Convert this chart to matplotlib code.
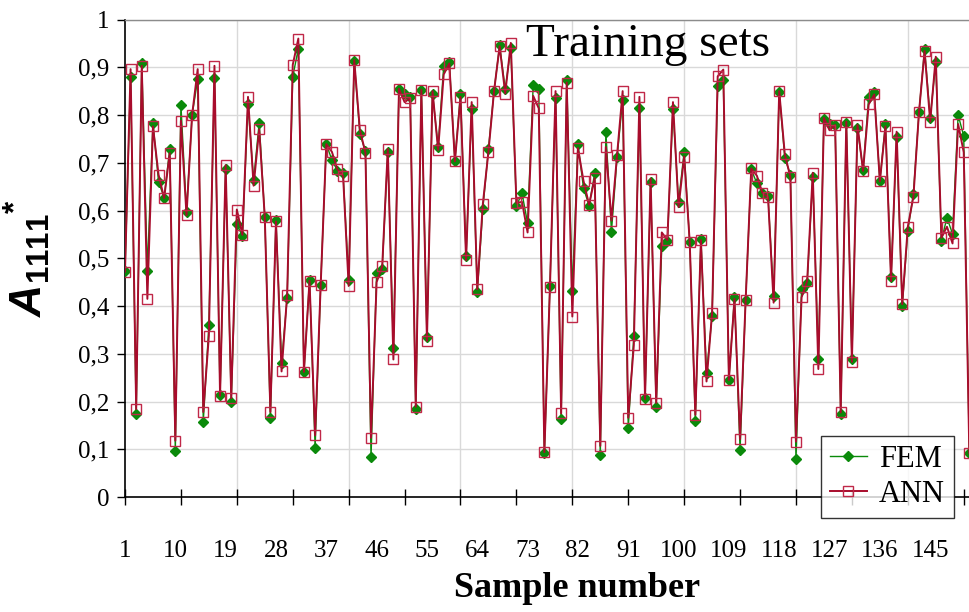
import numpy as np
import matplotlib
matplotlib.use("Agg")
import matplotlib.pyplot as plt
from matplotlib.ticker import FixedLocator, NullFormatter

# FEM reference values and ANN predictions for each training sample
fem = [
    0.474, 0.880, 0.173, 0.909, 0.474, 0.784, 0.660, 0.627, 0.729, 0.097,
    0.821, 0.597, 0.800, 0.875, 0.158, 0.360, 0.877, 0.214, 0.686, 0.200,
    0.572, 0.546, 0.823, 0.663, 0.784, 0.587, 0.166, 0.581, 0.281, 0.417,
    0.880, 0.939, 0.262, 0.455, 0.103, 0.445, 0.739, 0.706, 0.683, 0.678,
    0.455, 0.913, 0.761, 0.724, 0.083, 0.470, 0.478, 0.723, 0.313, 0.855,
    0.845, 0.838, 0.184, 0.852, 0.336, 0.845, 0.733, 0.903, 0.911, 0.704,
    0.845, 0.504, 0.813, 0.429, 0.604, 0.729, 0.850, 0.946, 0.854, 0.940,
    0.610, 0.636, 0.574, 0.862, 0.854, 0.092, 0.442, 0.836, 0.164, 0.873,
    0.431, 0.739, 0.647, 0.610, 0.678, 0.087, 0.764, 0.556, 0.711, 0.832,
    0.144, 0.338, 0.815, 0.207, 0.660, 0.189, 0.526, 0.536, 0.812, 0.618,
    0.723, 0.533, 0.160, 0.540, 0.259, 0.380, 0.860, 0.873, 0.246, 0.419,
    0.098, 0.413, 0.686, 0.657, 0.637, 0.630, 0.420, 0.848, 0.710, 0.675,
    0.079, 0.436, 0.448, 0.671, 0.290, 0.792, 0.782, 0.779, 0.174, 0.784,
    0.290, 0.772, 0.684, 0.838, 0.848, 0.662, 0.782, 0.460, 0.754, 0.399,
    0.558, 0.635, 0.806, 0.939, 0.794, 0.911, 0.537, 0.585, 0.551, 0.800,
    0.756, 0.092,
]
ann = [
    0.472, 0.896, 0.184, 0.903, 0.415, 0.776, 0.675, 0.626, 0.720, 0.118,
    0.788, 0.590, 0.800, 0.896, 0.178, 0.338, 0.903, 0.212, 0.695, 0.207,
    0.602, 0.549, 0.838, 0.652, 0.770, 0.586, 0.178, 0.577, 0.263, 0.423,
    0.905, 0.960, 0.262, 0.453, 0.129, 0.445, 0.739, 0.723, 0.686, 0.673,
    0.442, 0.915, 0.769, 0.721, 0.124, 0.450, 0.483, 0.729, 0.288, 0.855,
    0.827, 0.835, 0.189, 0.853, 0.327, 0.850, 0.727, 0.885, 0.908, 0.703,
    0.838, 0.496, 0.827, 0.435, 0.614, 0.723, 0.850, 0.944, 0.845, 0.951,
    0.616, 0.618, 0.554, 0.840, 0.814, 0.094, 0.440, 0.850, 0.175, 0.868,
    0.378, 0.731, 0.662, 0.612, 0.668, 0.107, 0.733, 0.579, 0.716, 0.850,
    0.166, 0.318, 0.838, 0.205, 0.667, 0.197, 0.554, 0.538, 0.827, 0.607,
    0.713, 0.533, 0.172, 0.538, 0.242, 0.386, 0.881, 0.895, 0.245, 0.415,
    0.121, 0.413, 0.688, 0.673, 0.637, 0.628, 0.407, 0.850, 0.718, 0.670,
    0.116, 0.418, 0.452, 0.679, 0.268, 0.794, 0.768, 0.779, 0.177, 0.786,
    0.283, 0.779, 0.683, 0.822, 0.843, 0.661, 0.776, 0.452, 0.765, 0.404,
    0.566, 0.629, 0.806, 0.934, 0.786, 0.922, 0.543, 0.566, 0.531, 0.781,
    0.722, 0.092,
]
samples = np.arange(1, len(fem) + 1)

x_tick_labels = list(range(1, 146, 9))          # 1, 10, 19, ..., 145
x_tick_marks = list(range(1, 152, 10))          # tick marks every 10 samples
x_grid = list(range(21, 152, 20))               # vertical grid lines
y_ticks = [round(0.1 * i, 1) for i in range(11)]

plt.rcParams["font.family"] = ["Liberation Serif", "DejaVu Serif"]
plt.rcParams["mathtext.fontset"] = "custom"
plt.rcParams["mathtext.it"] = "Liberation Sans:italic:bold"
plt.rcParams["mathtext.rm"] = "Liberation Sans:bold"
plt.rcParams["mathtext.bf"] = "Liberation Sans:bold"

fem_color = "#0a8a0a"
ann_color = "#a80c2c"

fig = plt.figure(figsize=(9.7, 6.12), dpi=100)
ax = fig.add_axes([125 / 970, 1 - 497 / 612, 846 / 970, (497 - 19.5) / 612])

ax.set_xlim(1, 152.3)
ax.set_ylim(0, 1)

# grid
for yv in y_ticks[1:]:
    ax.axhline(yv, color="#d9d9d9", lw=1.0, zorder=0)
for xv in x_grid:
    ax.axvline(xv, color="#d9d9d9", lw=1.0, zorder=0)

ax.plot(samples, fem, color=fem_color, lw=1.0, marker="D", ms=5.0,
        mfc=fem_color, mec=fem_color, label="FEM", zorder=3)
ax.plot(samples, ann, color=ann_color, lw=1.4, marker="s", ms=7.0,
        mfc="none", mec="#c02848", mew=1.0, label="ANN", zorder=4)

# axes styling
ax.spines["right"].set_visible(False)
ax.spines["top"].set_color("#8c8c8c")
ax.spines["top"].set_linewidth(1.0)
ax.spines["left"].set_linewidth(1.2)
ax.spines["bottom"].set_linewidth(1.2)

ax.set_yticks(y_ticks)
ax.set_yticklabels([("%g" % v).replace(".", ",") for v in y_ticks], fontsize=18)
ax.tick_params(axis="y", direction="out", length=6, width=1.0, pad=5)

ax.xaxis.remove_overlapping_locs = False
ax.xaxis.set_major_locator(FixedLocator(x_tick_marks))
ax.xaxis.set_major_formatter(NullFormatter())
ax.tick_params(axis="x", which="major", direction="inout", length=12, width=1.0)
ax.set_xticks(x_tick_labels, minor=True)
ax.set_xticklabels([str(v) for v in x_tick_labels], minor=True, fontsize=18)
ax.tick_params(axis="x", which="minor", length=0, pad=31)

ax.set_xlabel("Sample number", fontsize=26, fontweight="bold")
ax.xaxis.set_label_coords((577 - 125) / 846, -0.158)
ax.set_ylabel(r"$A_{1111}{}^{*}$", fontsize=32)
ax.yaxis.set_label_coords(-0.086, 0.5)

ax.text(0.618, 0.947, "Training sets", transform=ax.transAxes, fontsize=34,
        ha="center", va="center")

leg = ax.legend(loc="lower right", bbox_to_anchor=(954 / 970, 1 - 518 / 612),
                bbox_transform=fig.transFigure, fontsize=22, frameon=True,
                fancybox=False, edgecolor="black", borderpad=0.3,
                handlelength=1.2, handletextpad=0.4, labelspacing=0.2,
                borderaxespad=0.0)
leg.get_frame().set_linewidth(1.0)
leg.set_zorder(10)

fig.savefig("out.png", dpi=100)
